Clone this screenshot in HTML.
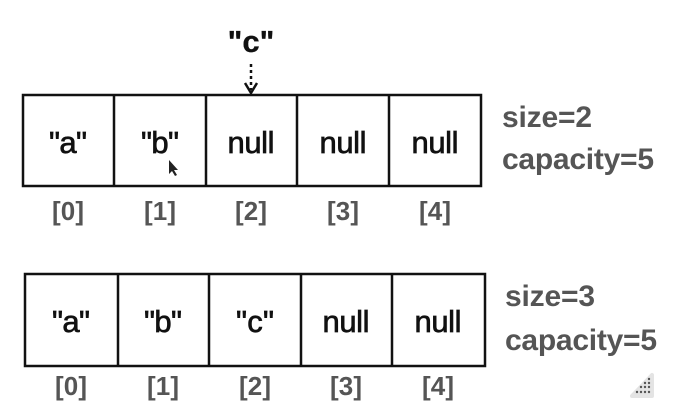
<!DOCTYPE html>
<html><head><meta charset="utf-8"><style>
html,body{margin:0;padding:0;background:#fff;width:675px;height:416px;overflow:hidden}
svg{display:block}
.c{font-family:"Liberation Sans",sans-serif;font-size:31px;fill:#111;stroke:#111;stroke-width:0.7;text-anchor:middle}
.i{font-family:"Liberation Sans",sans-serif;font-size:26px;font-weight:bold;fill:#555;text-anchor:middle}
.s{font-family:"Liberation Sans",sans-serif;font-size:30px;font-weight:bold;fill:#555}
</style></head><body>
<svg width="675" height="416" viewBox="0 0 675 416">
<text x="251" y="52" class="c" style="font-weight:bold;stroke-width:0.3">"c"</text>
<line x1="251" y1="64" x2="251" y2="90" stroke="#111" stroke-width="2.5" stroke-dasharray="3,3"/>
<polyline points="245,83 251,93 257,83" fill="none" stroke="#111" stroke-width="2.5"/>
<g fill="none" stroke="#111" stroke-width="2.5">
<rect x="23" y="95" width="458" height="91"/>
<line x1="114" y1="95" x2="114" y2="186"/><line x1="206" y1="95" x2="206" y2="186"/>
<line x1="297" y1="95" x2="297" y2="186"/><line x1="389" y1="95" x2="389" y2="186"/>
<rect x="25" y="274" width="460" height="92"/>
<line x1="118" y1="274" x2="118" y2="366"/><line x1="209" y1="274" x2="209" y2="366"/>
<line x1="301" y1="274" x2="301" y2="366"/><line x1="392" y1="274" x2="392" y2="366"/>
</g>
<text x="68" y="153" class="c" textLength="38">"a"</text><text x="160" y="153" class="c" textLength="38">"b"</text>
<text x="251" y="153" class="c" textLength="47">null</text><text x="343" y="153" class="c" textLength="47">null</text><text x="435" y="153" class="c" textLength="47">null</text>
<path d="M169,160 l0,14 l3,-3 l3,5 l2,-1 l-3,-5 l4,0 z" fill="#222"/>
<text x="68" y="220" class="i" textLength="32">[0]</text><text x="160" y="220" class="i" textLength="32">[1]</text><text x="251" y="220" class="i" textLength="32">[2]</text><text x="343" y="220" class="i" textLength="32">[3]</text><text x="435" y="220" class="i" textLength="32">[4]</text>
<text x="502" y="127" class="s" textLength="90">size=2</text>
<text x="502" y="169" class="s" textLength="152">capacity=5</text>
<text x="71" y="332" class="c" textLength="38">"a"</text><text x="163" y="332" class="c" textLength="38">"b"</text><text x="255" y="332" class="c" textLength="38">"c"</text>
<text x="346" y="332" class="c" textLength="47">null</text><text x="438" y="332" class="c" textLength="47">null</text>
<text x="71" y="395" class="i" textLength="32">[0]</text><text x="163" y="395" class="i" textLength="32">[1]</text><text x="255" y="395" class="i" textLength="32">[2]</text><text x="346" y="395" class="i" textLength="32">[3]</text><text x="438" y="395" class="i" textLength="32">[4]</text>
<text x="505" y="306" class="s" textLength="90">size=3</text>
<text x="505" y="350" class="s" textLength="152">capacity=5</text>
<path d="M652,375 L652,396 L632,396 Z" fill="#e4e4e4" stroke="#e4e4e4" stroke-width="4" stroke-linejoin="round"/>
<g fill="#555"><circle cx="649" cy="379" r="1.2"/><circle cx="645" cy="383" r="1.2"/><circle cx="649" cy="383" r="1.2"/><circle cx="641" cy="387" r="1.2"/><circle cx="645" cy="387" r="1.2"/><circle cx="649" cy="387" r="1.2"/><circle cx="637" cy="392" r="1.2"/><circle cx="641" cy="392" r="1.2"/><circle cx="645" cy="392" r="1.2"/><circle cx="649" cy="392" r="1.2"/></g>
</svg>
</body></html>
